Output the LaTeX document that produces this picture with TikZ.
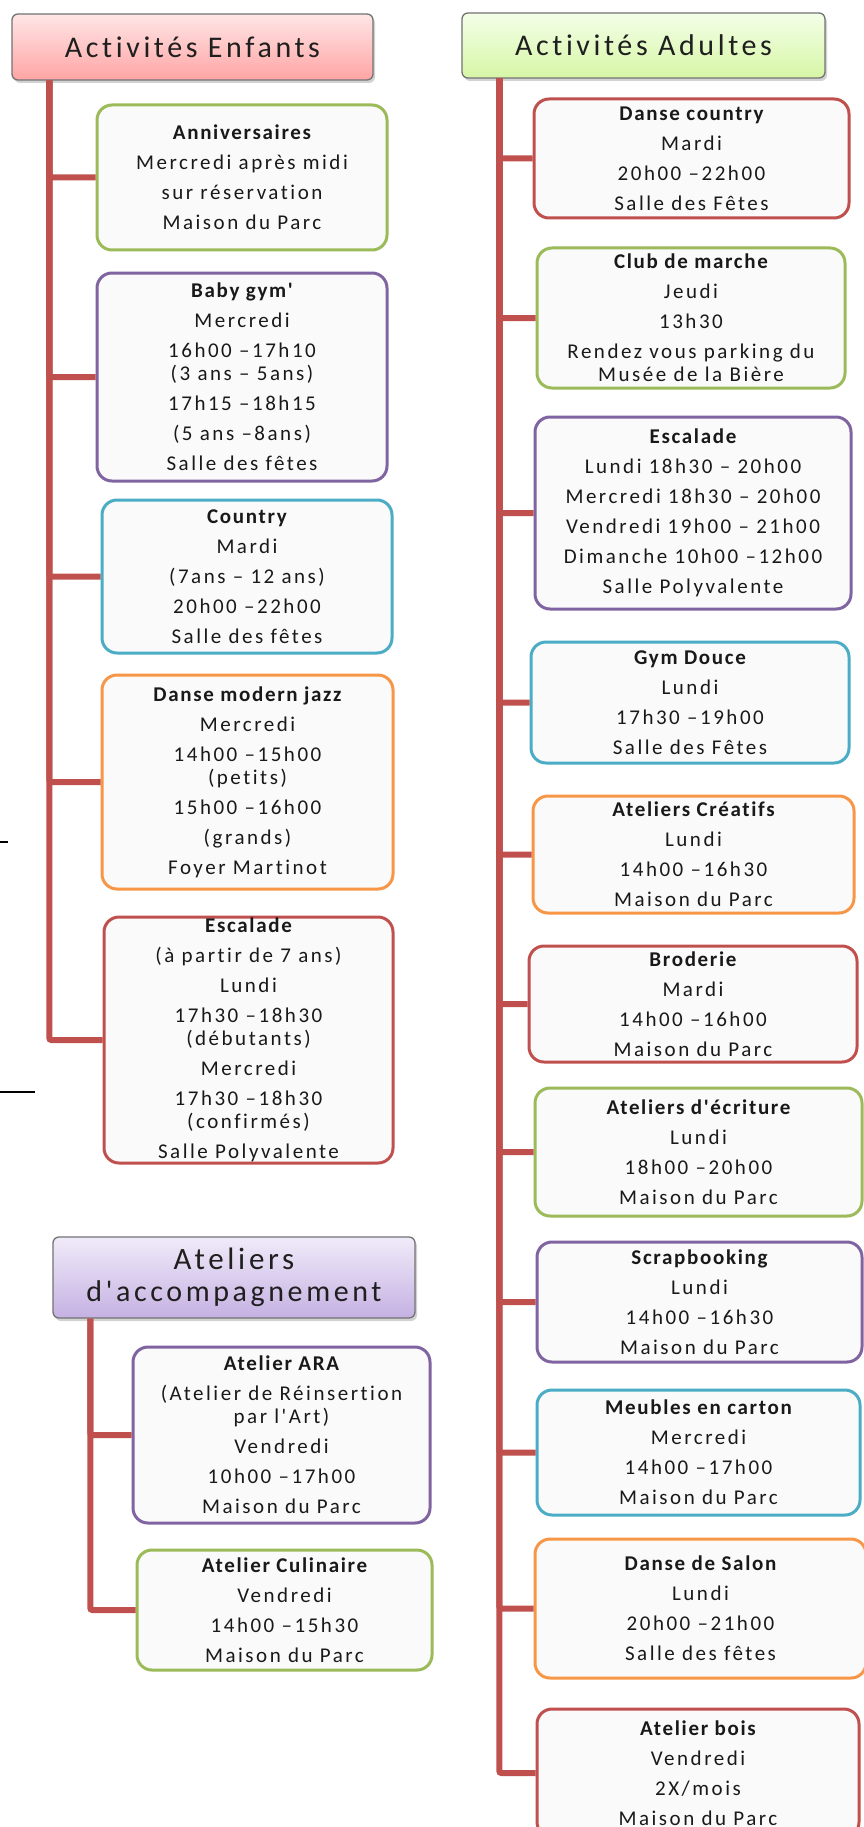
\documentclass[tikz,border=0pt]{standalone}
\usepackage{fontspec}
\usepackage{tikz}
\usetikzlibrary{shadows}
\newfontfamily\lsfont{Carlito}[LetterSpace=12, Ligatures=NoCommon]
\newfontfamily\lstitle{Carlito}[LetterSpace=8, Ligatures=NoCommon]
\newcommand{\cardfont}{\lsfont\fontsize{21}{30}\selectfont}
\newcommand{\headfont}{\lsfont\fontsize{30}{32}\selectfont}
\newcommand{\ttl}[1]{{\lstitle\bfseries #1}}
\definecolor{ofRed}{HTML}{C0504D}
\definecolor{ofGreen}{HTML}{9BBB59}
\definecolor{ofPurple}{HTML}{8064A2}
\definecolor{ofAqua}{HTML}{4BACC6}
\definecolor{ofOrange}{HTML}{F79646}
\definecolor{enfTop}{HTML}{FFE6E6}
\definecolor{enfBot}{HTML}{FFA4A4}
\definecolor{adTop}{HTML}{F4FFE8}
\definecolor{adBot}{HTML}{D6F6A6}
\definecolor{accTop}{HTML}{F0EBF9}
\definecolor{accBot}{HTML}{C5B1E2}
\tikzset{
    card/.style = {draw, rectangle, rounded corners=15pt, line width=3pt,
        fill=black!2, inner sep=0pt, align=center, font=\cardfont, text=black!90},
    head/.style = {draw=black!55, rectangle, rounded corners=6pt, line width=1.3pt,
        align=center, font=\headfont, text=black!88,
        drop shadow={opacity=0.35, shadow xshift=2pt, shadow yshift=-3pt}},
    branch/.style = {draw=ofRed, line width=6pt, rounded corners=2pt}
}

\begin{document}
\begin{tikzpicture}[x=1pt, y=-1pt]
        \useasboundingbox [fill=white] (0,0) rectangle (864,1827);

        % enfants
        \node [head, top color=enfTop, bottom color=enfBot, minimum width=361, minimum height=66, name=enfants] at (192.5,47) {Activités Enfants};
        \node [card, draw=ofGreen, minimum width=290, minimum height=145, name=anniv] at (242,177.5)
            {\ttl{Anniversaires}\\Mercredi après midi\\sur réservation\\Maison du Parc};
        \node [card, draw=ofPurple, minimum width=290, minimum height=208, name=babygym] at (242,377)
            {\ttl{Baby gym'}\\Mercredi\\16h00 –17h10\\[-7pt](3 ans – 5ans)\\17h15 –18h15\\(5 ans –8ans)\\Salle des fêtes};
        \node [card, draw=ofAqua, minimum width=290, minimum height=153, name=countryE] at (247,576.5)
            {\ttl{Country}\\Mardi\\(7ans – 12 ans)\\20h00 –22h00\\Salle des fêtes};
        \node [card, draw=ofOrange, minimum width=291, minimum height=214, name=jazz] at (247.5,782)
            {\ttl{Danse modern jazz}\\Mercredi\\14h00 –15h00\\[-7pt](petits)\\15h00 –16h00\\(grands)\\Foyer Martinot};
        \node [card, draw=ofRed, minimum width=289, minimum height=246, name=escaladeE] at (248.5,1040)
            {\ttl{Escalade}\\(à partir de 7 ans)\\Lundi\\17h30 –18h30\\[-7pt](débutants)\\Mercredi\\17h30 –18h30\\[-7pt](confirmés)\\Salle Polyvalente};
        \coordinate (enfRoot) at ([xshift=38pt]enfants.south west);
        \foreach \b in {anniv,babygym,countryE,jazz,escaladeE}{
            \draw [branch] (enfRoot) |- (\b.west);
        }
        \draw [line width=1.2pt] (0,842) -- (8,842);
        \draw [line width=1.2pt] (0,1092) -- (35,1092);

        % accompagnement
        \node [head, top color=accTop, bottom color=accBot, minimum width=362, minimum height=81, name=accomp] at (234,1277.5) {\fontsize{31}{32}\selectfont Ateliers\\d'accompagnement};
        \node [card, draw=ofPurple, minimum width=297, minimum height=176, name=ara] at (281.5,1435)
            {\ttl{Atelier ARA}\\(Atelier de Réinsertion\\[-7pt]par l'Art)\\Vendredi\\10h00 –17h00\\Maison du Parc};
        \node [card, draw=ofGreen, minimum width=295, minimum height=120, name=culinaire] at (284.5,1610)
            {\ttl{Atelier Culinaire}\\Vendredi\\14h00 –15h30\\Maison du Parc};
        \coordinate (accRoot) at ([xshift=38pt]accomp.south west);
        \foreach \b in {ara,culinaire}{
            \draw [branch] (accRoot) |- (\b.west);
        }

        % adultes
        \node [head, top color=adTop, bottom color=adBot, minimum width=363, minimum height=65, name=adultes] at (643.5,45.5) {Activités Adultes};
        \node [card, draw=ofRed, minimum width=315, minimum height=119, name=dcountry] at (691.5,158.5)
            {\ttl{Danse country}\\Mardi\\20h00 –22h00\\Salle des Fêtes};
        \node [card, draw=ofGreen, minimum width=308, minimum height=140, name=marche] at (691,318)
            {\ttl{Club de marche}\\Jeudi\\13h30\\Rendez vous parking du\\[-7pt]Musée de la Bière};
        \node [card, draw=ofPurple, minimum width=316, minimum height=192, name=escaladeA] at (693,513)
            {\ttl{Escalade}\\Lundi 18h30 – 20h00\\Mercredi 18h30 – 20h00\\Vendredi 19h00 – 21h00\\Dimanche 10h00 –12h00\\Salle Polyvalente};
        \node [card, draw=ofAqua, minimum width=318, minimum height=121, name=gymdouce] at (690,702.5)
            {\ttl{Gym Douce}\\Lundi\\17h30 –19h00\\Salle des Fêtes};
        \node [card, draw=ofOrange, minimum width=321, minimum height=117, name=creatifs] at (693.5,854.5)
            {\ttl{Ateliers Créatifs}\\Lundi\\14h00 –16h30\\Maison du Parc};
        \node [card, draw=ofRed, minimum width=328, minimum height=116, name=broderie] at (693,1004)
            {\ttl{Broderie}\\Mardi\\14h00 –16h00\\Maison du Parc};
        \node [card, draw=ofGreen, minimum width=327, minimum height=128, name=ecriture] at (698.5,1152)
            {\ttl{Ateliers d'écriture}\\Lundi\\18h00 –20h00\\Maison du Parc};
        \node [card, draw=ofPurple, minimum width=325, minimum height=120, name=scrap] at (699.5,1302)
            {\ttl{Scrapbooking}\\Lundi\\14h00 –16h30\\Maison du Parc};
        \node [card, draw=ofAqua, minimum width=323, minimum height=125, name=meubles] at (698.5,1452.5)
            {\ttl{Meubles en carton}\\Mercredi\\14h00 –17h00\\Maison du Parc};
        \node [card, draw=ofOrange, minimum width=331, minimum height=139, name=salon] at (700.5,1608.5)
            {\ttl{Danse de Salon}\\Lundi\\20h00 –21h00\\Salle des fêtes};
        \node [card, draw=ofRed, minimum width=322, minimum height=128, name=bois] at (698,1773)
            {\ttl{Atelier bois}\\Vendredi\\2X/mois\\Maison du Parc};
        \coordinate (adRoot) at ([xshift=38pt]adultes.south west);
        \foreach \b in {dcountry,marche,escaladeA,gymdouce,creatifs,broderie,ecriture,scrap,meubles,salon,bois}{
            \draw [branch] (adRoot) |- (\b.west);
        }
\end{tikzpicture}
\end{document}
